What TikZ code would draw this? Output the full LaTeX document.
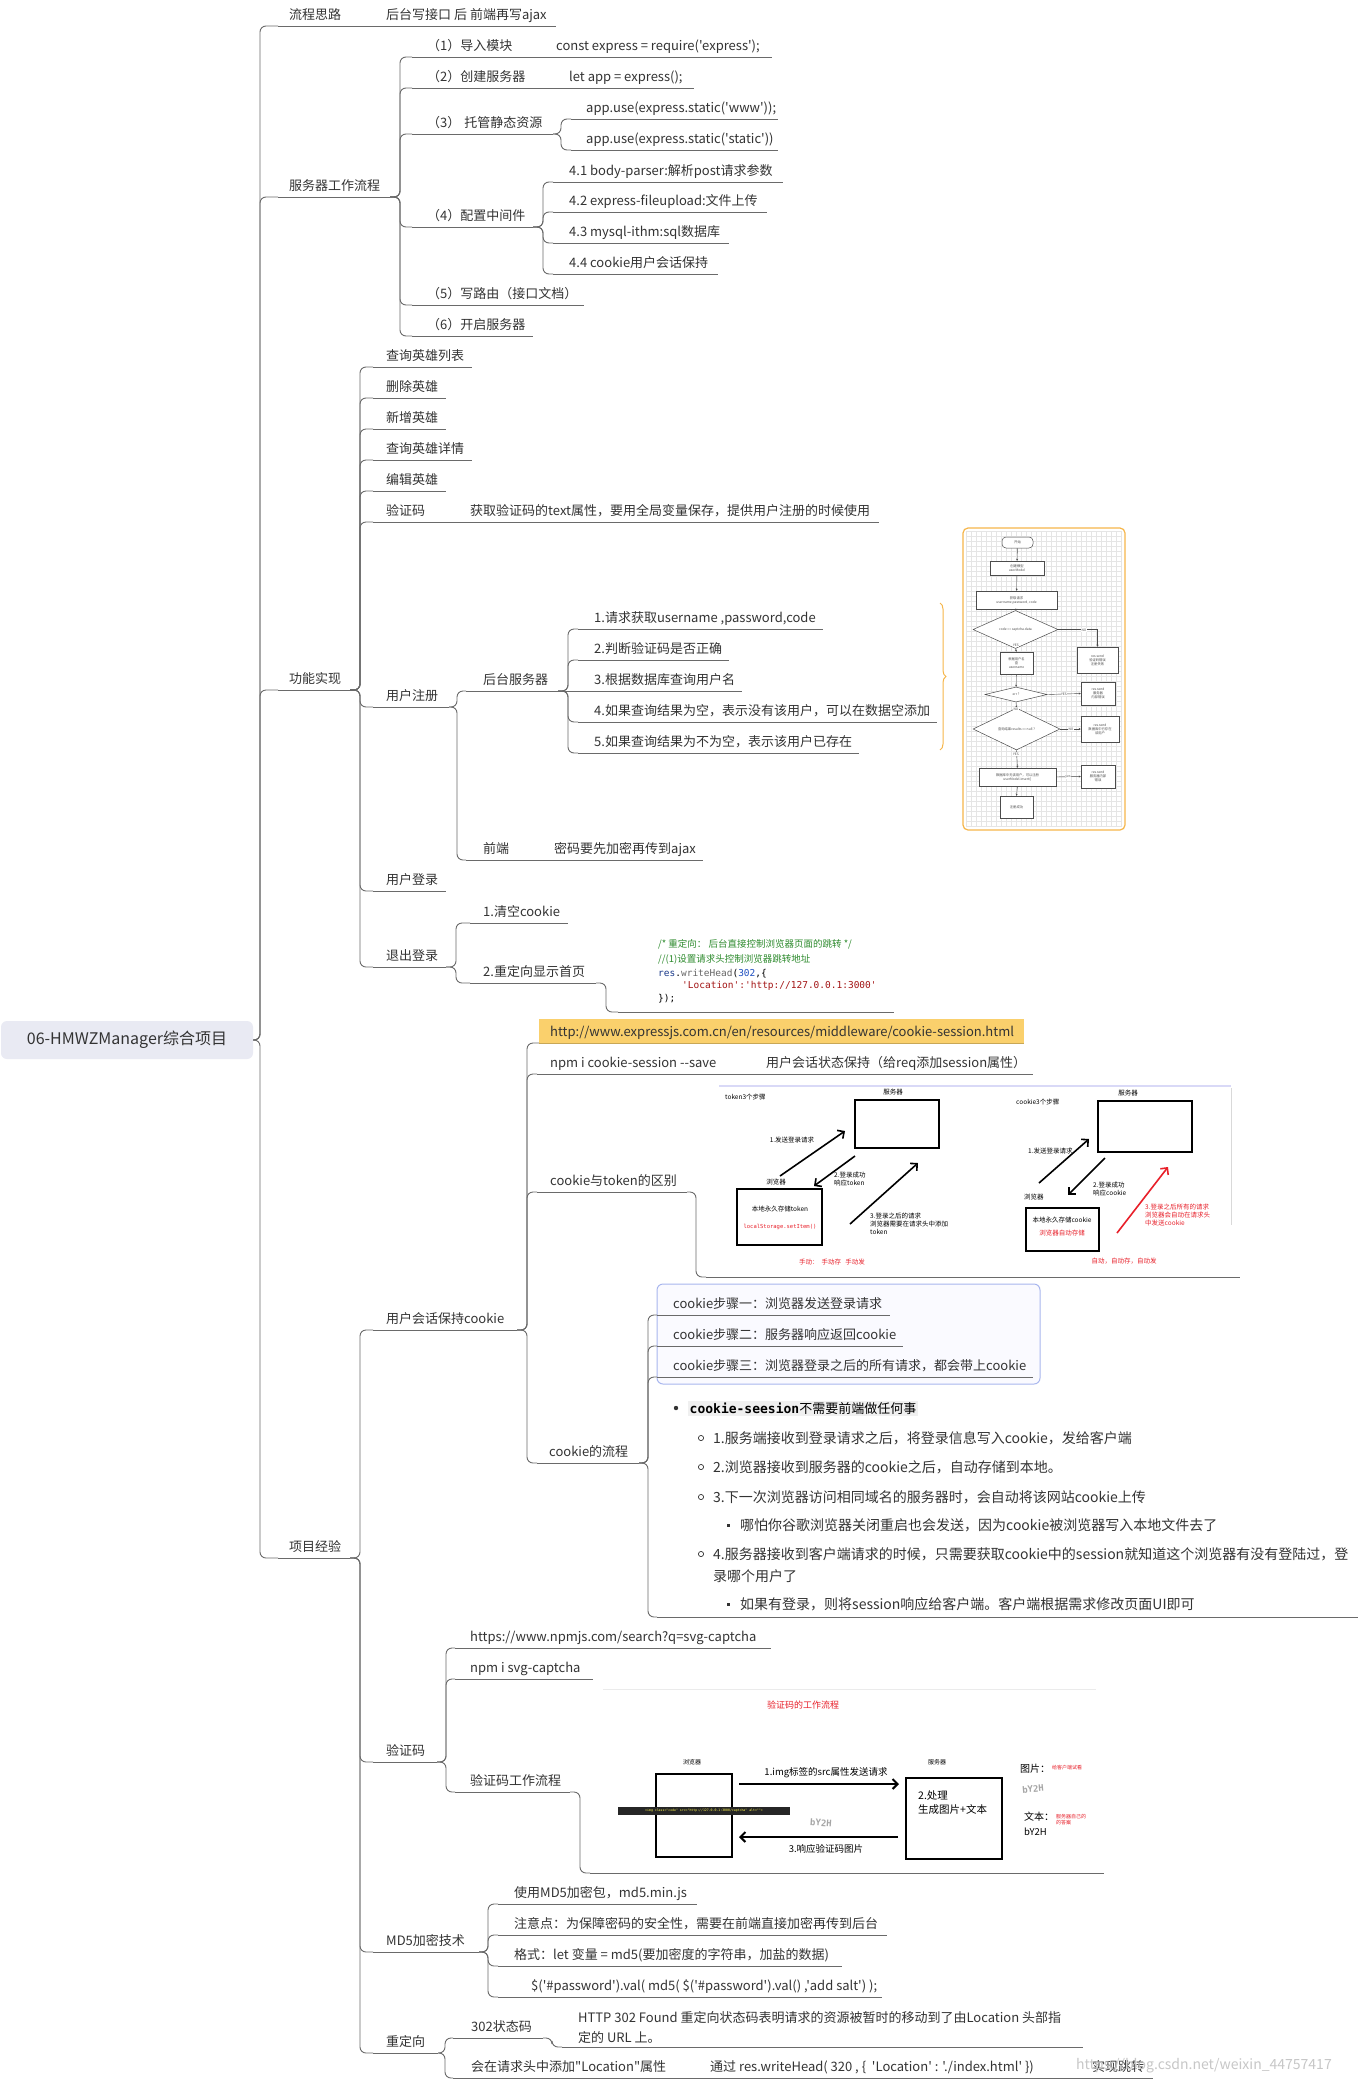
\documentclass[tikz,border=0pt]{standalone}
\usepackage{fontspec}
\newfontfamily\cjk{Noto Sans CJK SC}
\newfontfamily\mono{DejaVu Sans Mono}
\usetikzlibrary{arrows.meta,decorations.pathreplacing,shapes.geometric}
\definecolor{ln}{HTML}{6A6A6A}
\definecolor{tx}{HTML}{333333}
\definecolor{cmt}{HTML}{2E8B2E}
\definecolor{strc}{HTML}{A31515}
\definecolor{kw}{HTML}{1A3A8A}
\definecolor{num}{HTML}{2050C0}
\definecolor{orng}{HTML}{F6B64A}
\definecolor{linkbg}{HTML}{FAD06C}
\definecolor{rootbg}{HTML}{E9EAF3}
\definecolor{bbox}{HTML}{A8B6EE}
\definecolor{redt}{HTML}{E8202A}
\newcommand\mmtopic[6]{%
  \coordinate (#1-l) at (#2,#4);
  \coordinate (#1-r) at (#3,#4);
  \draw[uline] (#1-l) -- (#1-r);
  \node[txt] (#1) at (#5,#4-7) {#6};
}
\newcommand\mmside[4]{\node[txt] (#1) at (#2,#3-7) {#4};}
\tikzset{
  uline/.style={draw=ln, line width=0.9pt},
  conn/.style={draw=ln, line width=0.9pt, rounded corners=6pt, to path={-- ++(#1,0) |- (\tikztotarget)}},
  conn/.default=10,
  txt/.style={font=\cjk\fontsize{13}{16}\selectfont, text=tx, inner sep=0pt, anchor=base west},
  rtxt/.style={font=\cjk\fontsize{14}{16}\selectfont, text=tx, inner sep=0pt, anchor=base west},
  codet/.style={font=\mono\fontsize{9.5}{11}\selectfont, inner sep=0pt, anchor=base west},
  codec/.style={font=\cjk\fontsize{9.5}{11}\selectfont, text=cmt, inner sep=0pt, anchor=base west},
  fc/.style={draw=black!70, line width=0.5pt, fill=white, inner sep=0.5pt, align=center, font=\cjk\fontsize{3.3}{4}\selectfont, text=black!70},
  fa/.style={draw=black!70, line width=0.4pt, -{Stealth[length=2pt,width=2pt]}},
  fl/.style={font=\cjk\fontsize{3.3}{4}\selectfont, text=black!70, fill=white, inner sep=0.3pt},
  sm/.style={font=\cjk\fontsize{6.5}{8}\selectfont, text=black, inner sep=0pt, align=left},
  smr/.style={font=\cjk\fontsize{6.5}{8}\selectfont, text=redt, inner sep=0pt, align=left},
  bx/.style={draw=black, line width=2pt},
  barb/.style={line width=1.6pt, -{Straight Barb[length=5pt,width=10pt]}},
}
\begin{document}
\begin{tikzpicture}[x=1pt,y=-1pt]
\useasboundingbox (0,0) rectangle (1358,2080);
\fill[white] (0,0) rectangle (1358,2080);

% ---------- root ----------
\node[fill=rootbg, rounded corners=6pt, minimum width=252pt, minimum height=38pt, inner sep=0pt,
      font=\cjk\fontsize{16}{19}\selectfont, text=tx] (root) at (127,1040) {06-HMWZManager综合项目};
\coordinate (root-r) at (253,1040);

% ---------- main branches ----------
\mmtopic{m1}{278}{556}{26}{289}{流程思路}
\mmside{m1a}{386}{26}{后台写接口 后 前端再写ajax}
\mmtopic{m2}{278}{390}{197}{289}{服务器工作流程}
\mmtopic{m3}{278}{350}{690}{289}{功能实现}
\mmtopic{m4}{278}{350}{1558}{289}{项目经验}
\foreach \c in {m1,m2,m3,m4} \draw[conn=7] (root-r) to (\c-l);

% ---------- server workflow ----------
\mmtopic{s1}{412}{772}{57}{427}{（1）导入模块}
\mmside{s1a}{556}{57}{const express = require('express');}
\mmtopic{s2}{412}{694}{88}{427}{（2）创建服务器}
\mmside{s2a}{569}{88}{let app = express();}
\mmtopic{s3}{412}{553}{134}{427}{（3）\hspace{4pt}托管静态资源}
\mmtopic{s31}{571}{778}{119}{586}{app.use(express.static('www'));}
\mmtopic{s32}{571}{778}{150}{586}{app.use(express.static('static'))}
\mmtopic{s4}{412}{533}{227}{427}{（4）配置中间件}
\mmtopic{s41}{553}{783}{182}{569}{4.1 body-parser:解析post请求参数}
\mmtopic{s42}{553}{767}{212}{569}{4.2 express-fileupload:文件上传}
\mmtopic{s43}{553}{729}{243}{569}{4.3 mysql-ithm:sql数据库}
\mmtopic{s44}{553}{718}{274}{569}{4.4 cookie用户会话保持}
\mmtopic{s5}{412}{584}{305}{427}{（5）写路由（接口文档）}
\mmtopic{s6}{412}{533}{336}{427}{（6）开启服务器}
\foreach \c in {s1,s2,s3,s4,s5,s6} \draw[conn] (m2-r) to (\c-l);
\foreach \c in {s31,s32} \draw[conn=8] (s3-r) to (\c-l);
\foreach \c in {s41,s42,s43,s44} \draw[conn] (s4-r) to (\c-l);

% ---------- functions ----------
\mmtopic{f1}{373}{472}{367}{386}{查询英雄列表}
\mmtopic{f2}{373}{446}{398}{386}{删除英雄}
\mmtopic{f3}{373}{446}{429}{386}{新增英雄}
\mmtopic{f4}{373}{472}{460}{386}{查询英雄详情}
\mmtopic{f5}{373}{446}{491}{386}{编辑英雄}
\mmtopic{f6}{373}{879}{522}{386}{验证码}
\mmside{f6a}{470}{522}{获取验证码的text属性，要用全局变量保存，提供用户注册的时候使用}
\mmtopic{f7}{373}{449}{707}{386}{用户注册}
\mmtopic{f8}{373}{446}{891}{386}{用户登录}
\mmtopic{f9}{373}{446}{967}{386}{退出登录}
\foreach \c in {f1,f2,f3,f4,f5,f6,f7,f8,f9} \draw[conn] (m3-r) to (\c-l);

\mmtopic{g1}{466}{558}{691}{483}{后台服务器}
\mmtopic{g2}{466}{703}{860}{483}{前端}
\mmside{g2a}{554}{860}{密码要先加密再传到ajax}
\foreach \c in {g1,g2} \draw[conn=8] (f7-r) to (\c-l);

\mmtopic{h1}{578}{823}{629}{594}{1.请求获取username ,password,code}
\mmtopic{h2}{578}{729}{660}{594}{2.判断验证码是否正确}
\mmtopic{h3}{578}{742}{691}{594}{3.根据数据库查询用户名}
\mmtopic{h4}{578}{937}{722}{594}{4.如果查询结果为空，表示没有该用户，可以在数据空添加}
\mmtopic{h5}{578}{859}{753}{594}{5.如果查询结果为不为空，表示该用户已存在}
\foreach \c in {h1,h2,h4,h5} \draw[conn] (g1-r) to (\c-l);
\draw[uline] (g1-r) -- (h3-l);

% brace and flowchart
\draw[orng, line width=1pt, decorate, decoration={brace, amplitude=6pt}] (940,603) -- (940,750);
\draw[orng, line width=1.2pt, fill=white, rounded corners=5pt] (963,528) rectangle (1125,830);
\foreach \i in {0,...,31} \draw[black!10, line width=0.3pt] (966+5*\i,531) -- (966+5*\i,827);
\foreach \i in {0,...,59} \draw[black!10, line width=0.3pt] (966,531+5*\i) -- (1122,531+5*\i);
\node[fc, rounded corners=4pt, minimum width=31pt, minimum height=11pt] (fs) at (1017.5,542.5) {开始};
\node[fc, minimum width=54pt, minimum height=14pt] (fr1) at (1017,568) {创建模型\\userModel};
\node[fc, minimum width=81pt, minimum height=18pt] (fr2) at (1016.5,600) {获取请求\\username,password, code};
\node[fc, diamond, minimum width=85pt, minimum height=19pt] (fd1) at (1015.5,629.5) {code == captcha.data};
\node[fc, minimum width=41pt, minimum height=26pt] (fno1) at (1097.5,660) {res.send\\验证码错误\\注册失败};
\node[fc, minimum width=33pt, minimum height=22pt] (fr3) at (1016.5,663) {根据用户名\\查\\username};
\node[fc, diamond, minimum width=62pt, minimum height=15pt] (fd2) at (1016,694.5) {err ?};
\node[fc, minimum width=34pt, minimum height=23pt] (fe2) at (1098,693.5) {res.send\\服务器\\内部错误};
\node[fc, diamond, minimum width=87pt, minimum height=24pt] (fd3) at (1016.5,729) {查询结果results == null ?};
\node[fc, minimum width=38pt, minimum height=26pt] (fe3) at (1100,729) {res.send\\数据库中已存在\\该用户};
\node[fc, minimum width=77pt, minimum height=18pt] (fr4) at (1017.5,777) {数据库中无该用户，可以注册\\userModel.insert()};
\node[fc, minimum width=34pt, minimum height=23pt] (fe4) at (1098,776.5) {res.send\\服务器内部\\错误};
\node[fc, minimum width=33pt, minimum height=22pt] (fr5) at (1016.5,807) {注册成功};
\draw[fa] (fs) -- (fr1);
\draw[fa] (fr1) -- (fr2);
\draw[fa] (fr2) -- (fd1);
\draw[fa] (fd1.east) -| (fno1.north);
\draw[fa] (fd1.south) -- (fr3.north);
\draw[fa] (fr3) -- (fd2);
\draw[fa] (fd2.east) -- (fe2.west);
\draw[fa] (fd2.south) -- (fd3.north);
\draw[fa] (fd3.east) -- (fe3.west);
\draw[fa] (fd3.south) -- (fr4.north);
\draw[fa] (fr4.east) -- (fe4.west);
\draw[fa] (fr4.south) -- (fr5.north);
\node[fl] (l1) at (1084,630) {NO};
\node[fl] (l2) at (1016,645) {YES};
\node[fl] (l3) at (1064,694) {YES};
\node[fl] (l4) at (1016,709) {NO};
\node[fl] (l5) at (1071,729) {NO};
\node[fl] (l6) at (1016,754) {YES};
\node[fl] (l7) at (1068,777) {yes};

% logout
\mmtopic{q1}{470}{568}{923}{483}{1.清空cookie}
\mmtopic{q2}{470}{596}{983}{483}{2.重定向显示首页}
\foreach \c in {q1,q2} \draw[conn] (f9-r) to (\c-l);
\coordinate (q3-l) at (618,1012);
\coordinate (q3-r) at (894,1012);
\draw[uline] (q3-l) -- (q3-r);
\draw[conn] (q2-r) to (q3-l);
\node[codec] (cd1) at (658,947) {/* 重定向： 后台直接控制浏览器页面的跳转 */};
\node[codec] (cd2) at (658,962) {//(1)设置请求头控制浏览器跳转地址};
\node[codet] (cd3) at (658,976) {\textcolor{kw}{res}.\textcolor{black!60}{writeHead}(\textcolor{num}{302},\{};
\node[codet, text=strc] (cd4) at (682,988) {'Location':'http://127.0.0.1:3000'};
\node[codet] (cd5) at (658,1001) {\});};

% ---------- project experience ----------
\mmtopic{p1}{373}{517}{1330}{386}{用户会话保持cookie}
\mmtopic{p2}{373}{437}{1762}{386}{验证码}
\mmtopic{p3}{373}{479}{1952}{386}{MD5加密技术}
\mmtopic{p4}{373}{438}{2053}{386}{重定向}
\foreach \c in {p1,p2,p3,p4} \draw[conn] (m4-r) to (\c-l);

% cookie
\fill[linkbg] (539,1019) rectangle (1024,1043);
\draw[linkbg!80!black, line width=0.5pt] (539,1043) -- (1024,1043);
\node[txt] (c1) at (550,1036) {http://www.expressjs.com.cn/en/resources/middleware/cookie-session.html};
\coordinate (c1-l) at (539,1043);
\mmtopic{c2}{537}{1033}{1074}{550}{npm i cookie-session -{}-save}
\mmside{c2a}{766}{1074}{用户会话状态保持（给req添加session属性）}
\mmtopic{c3}{537}{687}{1192}{550}{cookie与token的区别}
\mmtopic{c4}{537}{639}{1463}{549}{cookie的流程}
\foreach \c in {c1,c2,c3,c4} \draw[conn] (p1-r) to (\c-l);

% cookie vs token picture
\coordinate (c3i-l) at (706,1277);
\coordinate (c3i-r) at (1240,1277);
\draw[uline] (c3i-l) -- (c3i-r);
\draw[conn=9] (c3-r) to (c3i-l);
\draw[black!20!blue!15, line width=2pt] (719,1086) -- (1231,1086);
\draw[black!15, line width=0.6pt] (1231,1088) -- (1231,1225);
\node[sm, anchor=west] (tkt) at (725,1097) {token3个步骤};
\node[sm] (tksl) at (893,1092) {服务器};
\draw[bx] (855,1100) rectangle (939,1148);
\draw[bx] (737,1189) rectangle (822,1245);
\node[sm] (tkbl) at (776,1182) {浏览器};
\node[sm] (tkb1) at (780,1209) {本地永久存储token};
\node[smr, font=\mono\fontsize{5.5}{7}\selectfont] (tkb2) at (780,1227) {localStorage.setItem()};
\draw[barb] (780,1176) -- (845,1131);
\draw[barb] (855,1156) -- (814,1186);
\draw[barb] (850,1224) -- (918,1163);
\node[sm] (tka1) at (792,1140) {1.发送登录请求};
\node[sm, anchor=north west] (tka2) at (834,1172) {2.登录成功\\响应token};
\node[sm, anchor=north west] (tka3) at (870,1213) {3.登录之后的请求\\浏览器需要在请求头中添加\\token};
\node[smr] (tkm) at (832,1262) {手动：\ \ 手动存\ \ \ 手动发};

\node[sm, anchor=west] (ckt) at (1016,1102) {cookie3个步骤};
\node[sm] (cksl) at (1128,1093) {服务器};
\draw[bx] (1098,1101) rectangle (1192,1152);
\draw[bx] (1026,1208) rectangle (1099,1251);
\node[sm, anchor=west] (ckbl) at (1024,1197) {浏览器};
\node[sm] (ckb1) at (1062,1220) {本地永久存储cookie};
\node[smr] (ckb2) at (1062,1233) {浏览器自动存储};
\draw[barb] (1039,1183) -- (1089,1139);
\draw[barb] (1105,1158) -- (1068,1195);
\draw[barb, redt] (1117,1233) -- (1168,1167);
\node[sm, anchor=west] (cka1) at (1028,1151) {1.发送登录请求};
\node[sm, anchor=north west] (cka2) at (1093,1182) {2.登录成功\\响应cookie};
\node[smr, anchor=north west] (cka3) at (1145,1204) {3.登录之后所有的请求\\浏览器会自动在请求头\\中发送cookie};
\node[smr] (ckm) at (1124,1261) {自动，自动存，自动发};

% cookie flow
\draw[bbox, fill=blue!2, line width=1pt, rounded corners=6pt] (657,1284) rectangle (1040,1384);
\mmtopic{k1}{657}{890}{1315}{673}{cookie步骤一：浏览器发送登录请求}
\mmtopic{k2}{657}{903}{1346}{673}{cookie步骤二：服务器响应返回cookie}
\mmtopic{k3}{657}{1033}{1377}{673}{cookie步骤三：浏览器登录之后的所有请求，都会带上cookie}
\coordinate (k4-l) at (657,1617);
\coordinate (k4-r) at (1358,1617);
\draw[uline] (k4-l) -- (k4-r);
\foreach \c in {k1,k2,k3,k4} \draw[conn=9] (c4-r) to (\c-l);

\fill[tx] (676,1408) circle (2.2);
\node[fill=black!6, inner sep=1.5pt, anchor=base west] (rt0) at (688,1413)
  {{\mono\bfseries\fontsize{13}{15}\selectfont cookie-seesion}{\cjk\fontsize{13}{15}\selectfont 不需要前端做任何事}};
\foreach \yy in {1438,1467,1497,1554} \draw[tx, line width=0.7pt] (701,\yy) circle (2.6);
\foreach \yy in {1525,1604} \fill[tx] (726.5,\yy-1.5) rectangle (729.5,\yy+1.5);
\node[rtxt] (rt1) at (713,1443) {1.服务端接收到登录请求之后，将登录信息写入cookie，发给客户端};
\node[rtxt] (rt2) at (713,1472) {2.浏览器接收到服务器的cookie之后，自动存储到本地。};
\node[rtxt] (rt3) at (713,1502) {3.下一次浏览器访问相同域名的服务器时，会自动将该网站cookie上传};
\node[rtxt] (rt4) at (740,1530) {哪怕你谷歌浏览器关闭重启也会发送，因为cookie被浏览器写入本地文件去了};
\node[rtxt] (rt5) at (713,1559) {4.服务器接收到客户端请求的时候，只需要获取cookie中的session就知道这个浏览器有没有登陆过，登};
\node[rtxt] (rt6) at (713,1581) {录哪个用户了};
\node[rtxt] (rt7) at (740,1609) {如果有登录，则将session响应给客户端。客户端根据需求修改页面UI即可};

% captcha
\mmtopic{v1}{455}{771}{1648}{470}{https://www.npmjs.com/search?q=svg-captcha}
\mmtopic{v2}{455}{593}{1679}{470}{npm i svg-captcha}
\mmtopic{v3}{455}{570}{1792}{470}{验证码工作流程}
\foreach \c in {v1,v2,v3} \draw[conn=9] (p2-r) to (\c-l);
\coordinate (v4-l) at (590,1873);
\coordinate (v4-r) at (1104,1873);
\draw[uline] (v4-l) -- (v4-r);
\draw[conn] (v3-r) to (v4-l);
\draw[black!8, line width=1pt] (603,1689) -- (1096,1689);
\node[font=\cjk\fontsize{9}{11}\selectfont, text=redt] (vt) at (803,1705) {验证码的工作流程};
\node[font=\cjk\fontsize{6}{7}\selectfont] (vbl) at (692,1762) {浏览器};
\draw[bx] (656,1774) rectangle (732,1857);
\node[fill=black!85, minimum width=172pt, minimum height=8pt, inner sep=0pt,
      font=\mono\fontsize{3.2}{4}\selectfont, text=yellow!70] (vcode) at (704,1811)
      {<img class="code" src="http://127.0.0.1:3000/captcha" alt="">};
\draw[barb, line width=2pt] (739,1784) -- (899,1784);
\node[font=\cjk\fontsize{9.5}{11}\selectfont] (va1) at (826,1773) {1.img标签的src属性发送请求};
\node[font=\cjk\fontsize{6}{7}\selectfont] (vsl) at (937,1762) {服务器};
\draw[bx] (906,1778) rectangle (1002,1859);
\node[font=\cjk\fontsize{10.5}{14}\selectfont, anchor=north west, align=left, inner sep=0pt] (vs) at (918,1790) {2.处理\\生成图片+文本};
\draw[barb, line width=2pt] (898,1837) -- (739,1837);
\node[font=\cjk\fontsize{9.5}{11}\selectfont] (va3) at (826,1849) {3.响应验证码图片};
\node[font=\mono\bfseries\fontsize{9}{10}\selectfont, text=black!35, rotate=-4] (vcap1) at (821,1823) {bY2H};
\node[font=\cjk\fontsize{10}{12}\selectfont, anchor=west, inner sep=0pt] (vp) at (1020,1769) {图片：};
\node[font=\cjk\fontsize{5}{6}\selectfont, text=redt, anchor=west, inner sep=0pt] (vpn) at (1052,1768) {给客户端试看};
\node[font=\mono\bfseries\fontsize{9}{10}\selectfont, text=black!35, rotate=5] (vcap2) at (1033,1789) {bY2H};
\node[font=\cjk\fontsize{10}{12}\selectfont, anchor=west, inner sep=0pt] (vw) at (1024,1817) {文本：};
\node[font=\cjk\fontsize{5}{6}\selectfont, text=redt, anchor=west, inner sep=0pt, align=left] (vwn) at (1056,1820) {服务器自己的\\的答案};
\node[font=\cjk\fontsize{9.5}{11}\selectfont, anchor=west, inner sep=0pt] (vwt) at (1024,1832) {bY2H};

% md5
\mmtopic{d1}{498}{697}{1904}{514}{使用MD5加密包，md5.min.js}
\mmtopic{d2}{498}{887}{1935}{514}{注意点：为保障密码的安全性，需要在前端直接加密再传到后台}
\mmtopic{d3}{498}{842}{1966}{514}{格式：let 变量 = md5(要加密度的字符串，加盐的数据)}
\mmtopic{d4}{498}{882}{1997}{531}{\$('\#password').val( md5( \$('\#password').val() ,'add salt') );}
\foreach \c in {d1,d2,d3,d4} \draw[conn=9] (p3-r) to (\c-l);

% redirect
\mmtopic{r1}{453}{543}{2038}{471}{302状态码}
\mmtopic{r2}{453}{1153}{2078}{471}{会在请求头中添加"Location"属性}
\mmside{r2a}{710}{2078}{通过 res.writeHead( 320 , \{\ \ 'Location' : './index.html' \})}
\mmside{r2b}{1092}{2078}{实现跳转}
\foreach \c in {r1,r2} \draw[conn=7] (p4-r) to (\c-l);
\coordinate (r3-l) at (562,2047);
\coordinate (r3-r) at (1083,2047);
\draw[uline] (r3-l) -- (r3-r);
\draw[conn=9] (r1-r) to (r3-l);
\node[txt] (r3a) at (578,2022) {HTTP 302 Found 重定向状态码表明请求的资源被暂时的移动到了由Location 头部指};
\node[txt] (r3b) at (578,2042) {定的 URL 上。};

\node[font=\cjk\fontsize{14}{16}\selectfont, text=black!22, anchor=base west, inner sep=0pt] (wm) at (1076,2069) {https://blog.csdn.net/weixin\_44757417};
\end{tikzpicture}
\end{document}
